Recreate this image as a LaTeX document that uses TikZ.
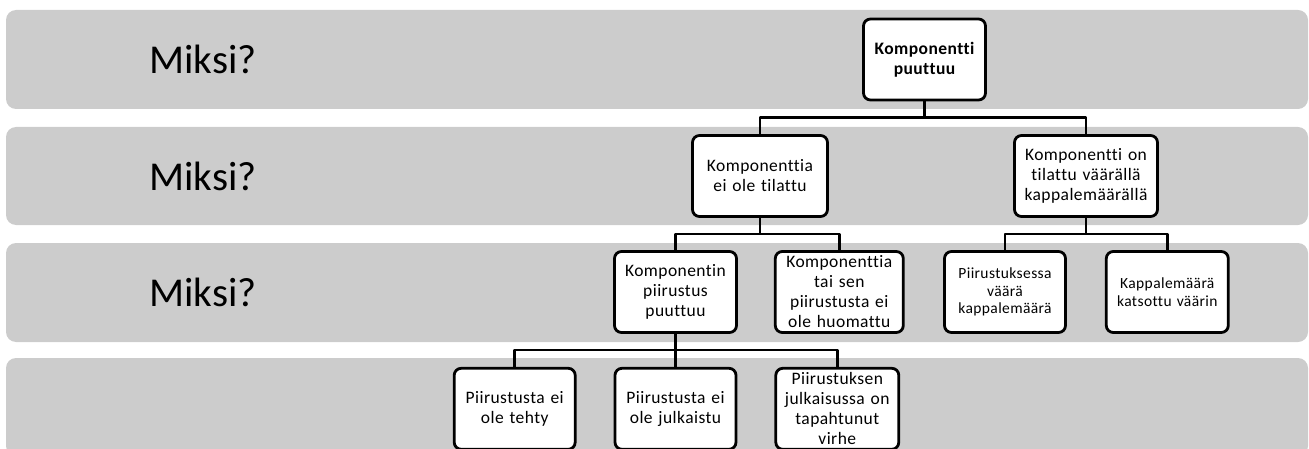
\documentclass[tikz,border=0pt]{standalone}
\usepackage{fontspec}
\setmainfont{Carlito}
\newfontfamily\boxfont{Carlito}[LetterSpace=2.5, Ligatures=NoCommon]
\usetikzlibrary{positioning}
\definecolor{bandgray}{RGB}{204,204,204}

\begin{document}
\begin{tikzpicture}[x=1pt, y=1pt, line width=2.8pt, line join=round,
  band/.style={fill=bandgray, rounded corners=10pt},
  why/.style={font=\fontsize{41}{48}\selectfont, anchor=west, inner sep=0pt},
  box/.style={draw, rounded corners=7pt, fill=white, align=center, minimum height=81pt, inner sep=1pt,
    font=\boxfont\fontsize{17.5}{20}\selectfont, text width=#1},
  box/.default=118pt,
  small/.style={font=\boxfont\fontsize{15.5}{17.5}\selectfont}]
\useasboundingbox (0,0) rectangle (1309,448);
\clip (0,0) rectangle (1309,448);
% levels
\foreach \lo/\hi in {339/438, 223/321, 106/205, -8/90}
  \fill[band] (6,\lo) rectangle (1308,\hi);
\foreach \y/\n in {388.5/1, 272/2, 156/3}
  \node[why] (why\n) at (148,\y) {Miksi?};
% tree
\node[box=120pt, font=\boxfont\bfseries\fontsize{17.5}{20}\selectfont] (root) at (924.5,388.5) {Komponentti\\puuttuu};
\node[box=133pt] (A) at (760,272) {Komponenttia\\ei ole tilattu};
\node[box=141pt] (B) at (1086,272) {Komponentti on\\tilattu väärällä\\kappalemäärällä};
\node[box=120pt] (C) at (675.5,156) {Komponentin\\piirustus\\puuttuu};
\node[box=126pt, right=36pt of C] (D) {Komponenttia\\tai sen\\piirustusta ei\\ole huomattu};
\node[box=119pt, small] (E) at (1005,156) {Piirustuksessa\\väärä\\kappalemäärä};
\node[box=120pt, small, right=38pt of E] (F) {Kappalemäärä\\katsottu väärin};
\node[box=119pt, below=33pt of C] (H) {Piirustusta ei\\ole julkaistu};
\node[box=119pt, left=37pt of H] (G) {Piirustusta ei\\ole tehty};
\node[box=121pt, right=37pt of H] (I) {Piirustuksen\\julkaisussa on\\tapahtunut\\virhe};
\foreach \p/\c in {root/A, root/B, A/C, A/D, B/E, B/F, C/G, C/H, C/I}
  \draw (\p.south) -- ++(0,-16) -| (\c.north);
\end{tikzpicture}
\end{document}
